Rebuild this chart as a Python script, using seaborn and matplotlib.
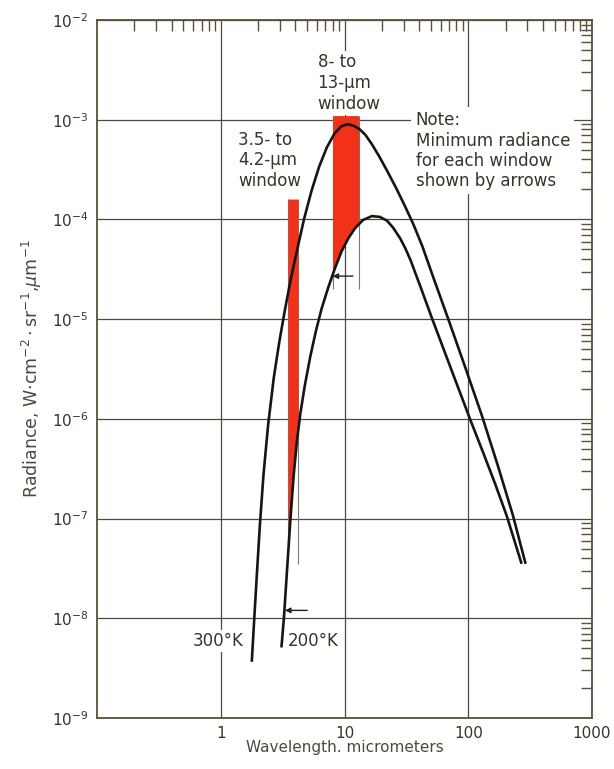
import numpy as np
import pandas as pd
import matplotlib
matplotlib.use("Agg")
import matplotlib.pyplot as plt
from matplotlib.ticker import LogLocator, NullFormatter, FixedLocator, FixedFormatter
import seaborn as sns

# Blackbody spectral radiance, W cm^-2 sr^-1 um^-1, against wavelength in um
wl_300k = [1.781, 1.859, 1.955, 2.072, 2.215, 2.416, 2.685, 2.968, 3.286, 3.639,
           4.105, 4.712, 5.417, 6.237, 7.192, 8.310, 9.438, 10.55, 11.79, 13.20,
           14.78, 16.58, 18.95, 22.09, 26.26, 30.62, 35.73, 42.55, 52.74, 69.29,
           94.7, 129.5, 173.9, 229.0, 290.7]
rad_300k = [3.66e-9, 9.21e-9, 2.67e-8, 8.68e-8, 2.76e-7, 8.77e-7, 2.60e-6, 5.85e-6,
            1.20e-5, 2.35e-5, 4.71e-5, 1.01e-4, 1.94e-4, 3.38e-4, 5.26e-4, 7.29e-4,
            8.59e-4, 9.01e-4, 8.72e-4, 8.06e-4, 7.03e-4, 5.72e-4, 4.35e-4, 3.08e-4,
            2.04e-4, 1.38e-4, 9.15e-5, 5.39e-5, 2.53e-5, 9.85e-6, 3.27e-6, 1.06e-6,
            3.36e-7, 1.09e-7, 3.52e-8]

wl_200k = [3.094, 3.241, 3.437, 3.646, 3.873, 4.124, 4.402, 4.787, 5.303, 5.880,
           6.526, 7.383, 8.357, 9.465, 10.74, 12.19, 14.10, 16.64, 19.32, 22.03,
           24.69, 28.21, 31.04, 34.20, 41.55, 50.48, 73.07, 103.7, 133.6, 165.4,
           204.9, 269.8]
rad_200k = [5.10e-9, 1.02e-8, 3.10e-8, 9.40e-8, 2.60e-7, 5.98e-7, 1.14e-6, 2.19e-6,
            4.28e-6, 7.64e-6, 1.27e-5, 2.07e-5, 3.22e-5, 4.78e-5, 6.47e-5, 8.18e-5,
            9.86e-5, 1.08e-4, 1.06e-4, 9.72e-5, 8.28e-5, 6.44e-5, 5.12e-5, 3.89e-5,
            2.04e-5, 1.05e-5, 3.11e-6, 9.85e-7, 4.41e-7, 2.21e-7, 1.06e-7, 3.52e-8]

# Atmospheric windows (um) and the top of each shaded band
window_lo = [3.5, 8.0]
window_hi = [4.2, 13.0]
window_top = [1.6e-4, 1.1e-3]
# Lower ends of the thin edge lines under each band
edge_bottom_lo = [5.0e-8, 2.0e-5]
edge_bottom_hi = [3.5e-8, 2.0e-5]

# Minimum radiance arrows: level, tail and head wavelength
arrow_level = [1.2e-8, 2.7e-5]
arrow_tail = [5.0, 11.7]
arrow_head = [3.3, 8.0]

x_ticks = [1, 10, 100, 1000]
x_ticklabels = ["1", "10", "100", "1000"]
y_ticks = [1e-9, 1e-8, 1e-7, 1e-6, 1e-5, 1e-4, 1e-3, 1e-2]
y_ticklabels = [r"$10^{-9}$", r"$10^{-8}$", r"$10^{-7}$", r"$10^{-6}$",
                r"$10^{-5}$", r"$10^{-4}$", r"$10^{-3}$", r"$10^{-2}$"]

sns.set_theme(style="white")
plt.rcParams["font.family"] = ["DejaVu Sans"]
plt.rcParams["mathtext.fontset"] = "dejavusans"

INK = "#3a3326"
FRAME = "#5c5038"
GRID = "#4a4a3e"
RED = "#f2311b"

fig = plt.figure(figsize=(6.14, 7.69), dpi=100)
fig.patch.set_facecolor("white")
ax = fig.add_axes([97 / 614, 1 - 718 / 769, (592 - 97) / 614, (718 - 20) / 769])
ax.set_facecolor("white")

df = pd.concat([
    pd.DataFrame({"wavelength": wl_300k, "radiance": rad_300k, "T": "300"}),
    pd.DataFrame({"wavelength": wl_200k, "radiance": rad_200k, "T": "200"}),
], ignore_index=True)

ax.set_xscale("log")
ax.set_yscale("log")

sns.lineplot(data=df, x="wavelength", y="radiance", hue="T",
             palette={"300": "#151512", "200": "#151512"}, estimator=None,
             sort=False, legend=False, linewidth=1.9, ax=ax, zorder=4)
for line in ax.lines:
    line.set_solid_joinstyle("round")
    line.set_solid_capstyle("butt")

# Shaded window bands, bounded below by the 200 K curve
lx = np.log10(wl_200k)
ly = np.log10(rad_200k)
for lo, hi, top in zip(window_lo, window_hi, window_top):
    inside = [w for w in wl_200k if lo < w < hi]
    xs = np.array([lo] + inside + [hi])
    lower = 10 ** np.interp(np.log10(xs), lx, ly)
    ax.fill_between(xs, lower, top, color=RED, linewidth=0, zorder=2)

# Thin edge lines of each window
ax.vlines(window_lo, edge_bottom_lo, window_top, color="#77776a", lw=0.8, zorder=1.8)
ax.vlines(window_hi, edge_bottom_hi, window_top, color="#77776a", lw=0.8, zorder=1.8)

for lvl, tail, head in zip(arrow_level, arrow_tail, arrow_head):
    ax.annotate("", xy=(head, lvl), xytext=(tail, lvl),
                arrowprops=dict(arrowstyle="-|>", color="#222", lw=1.0,
                                mutation_scale=8, shrinkA=0, shrinkB=0),
                zorder=5)

ax.set_xlim(0.1, 1000)
ax.set_ylim(1e-9, 1e-2)

ax.xaxis.set_major_locator(FixedLocator(x_ticks))
ax.xaxis.set_major_formatter(FixedFormatter(x_ticklabels))
ax.yaxis.set_major_locator(FixedLocator(y_ticks))
ax.yaxis.set_major_formatter(FixedFormatter(y_ticklabels))
ax.xaxis.set_minor_locator(LogLocator(base=10, subs=np.arange(2, 10), numticks=100))
ax.yaxis.set_minor_locator(LogLocator(base=10, subs=np.arange(2, 10), numticks=100))
ax.xaxis.set_minor_formatter(NullFormatter())
ax.yaxis.set_minor_formatter(NullFormatter())

ax.grid(True, which="major", color=GRID, linewidth=0.9, zorder=1)
ax.set_axisbelow(True)
ax.tick_params(which="both", direction="in", top=True, right=True,
               colors=FRAME, labelcolor=INK, labelsize=11)
ax.tick_params(which="major", length=0, pad=6)
ax.tick_params(which="minor", length=8, width=1.0)
for s in ax.spines.values():
    s.set_color(FRAME)
    s.set_linewidth(1.3)

ax.set_xlabel("Wavelength. micrometers", fontsize=11, color="#4a4a3a", labelpad=-1)
ax.set_ylabel(r"Radiance, W$\cdot$cm$^{-2}\cdot$sr$^{-1}$,$\mu$m$^{-1}$",
              fontsize=12.5, color="#4a4a3a", labelpad=6)

box = dict(facecolor="white", edgecolor="none", pad=1.5)
ax.text(6.06, 2.35e-3, "8- to\n13-\u03bcm\nwindow", ha="left", va="center",
        fontsize=12, color=INK, linespacing=1.2, bbox=box, zorder=6)
ax.text(1.38, 3.9e-4, "3.5- to\n4.2-\u03bcm\nwindow", ha="left", va="center",
        fontsize=12, color=INK, linespacing=1.2, bbox=box, zorder=6)
ax.text(37.5, 4.9e-4, "Note:\nMinimum radiance\nfor each window\nshown by arrows",
        ha="left", va="center", fontsize=12, color=INK, linespacing=1.15,
        bbox=dict(facecolor="white", edgecolor="none", pad=3), zorder=6)
ax.text(1.52, 5.9e-9, "300\u00b0K", ha="right", va="center", fontsize=12,
        color=INK, bbox=box, zorder=6)
ax.text(3.5, 5.9e-9, "200\u00b0K", ha="left", va="center", fontsize=12,
        color=INK, bbox=box, zorder=6)

fig.savefig("out.png", dpi=100, facecolor="white")
